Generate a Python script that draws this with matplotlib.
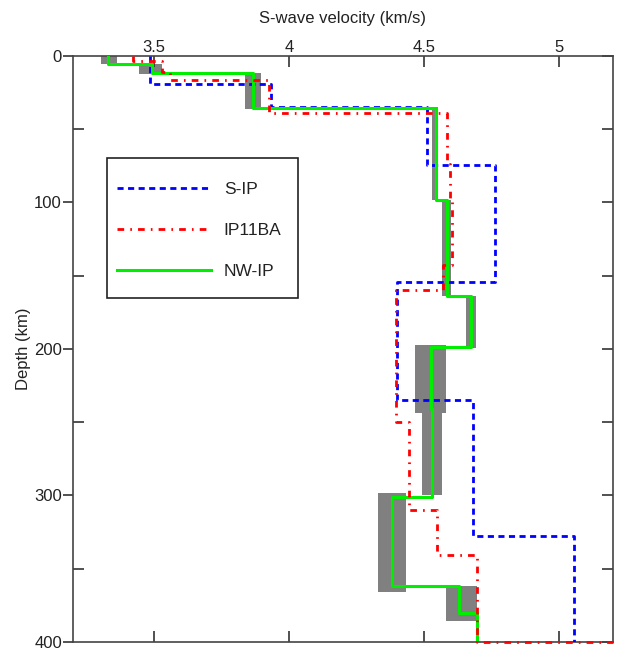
import numpy as np
import matplotlib
matplotlib.use("Agg")
from matplotlib import pyplot as plt
from matplotlib.patches import Rectangle
from matplotlib.ticker import MultipleLocator, FixedLocator

plt.rcParams['font.family'] = ['Liberation Sans', 'DejaVu Sans']

# layer boundaries (km) and S-wave velocities (km/s) of each model
sip_depth = [0, 19.1, 34.8, 74.4, 154.2, 234.7, 327.5, 400]
sip_vs = [3.487, 3.935, 4.513, 4.765, 4.402, 4.683, 5.057]

# IP11BA jumps beyond the plotted range right at 400 km
ip_depth = [0, 3.4, 11, 16.4, 38.9, 74, 98, 143, 160, 250, 310, 340.5, 400, 400]
ip_vs = [3.424, 3.53, 3.56, 3.925, 4.585, 4.595, 4.605, 4.57, 4.398, 4.446,
         4.55, 4.698, 5.2]

nw_depth = [0, 5.5, 11.6, 35.5, 98.3, 163.8, 198.6, 241, 301, 362, 380, 400]
nw_vs = [3.328, 3.491, 3.868, 4.546, 4.587, 4.676, 4.528, 4.531, 4.380,
         4.631, 4.698]

# uncertainty of NW-IP per layer
band_top = [0, 5.5, 11.6, 35, 98, 164, 197, 237, 298, 362]
band_bottom = [5.5, 12, 36, 98, 164, 199, 244, 300, 366, 386]
band_lo = [3.305, 3.446, 3.839, 4.531, 4.568, 4.657, 4.468, 4.494, 4.331, 4.583]
band_hi = [3.363, 3.531, 3.898, 4.553, 4.600, 4.694, 4.583, 4.568, 4.435, 4.698]


def steps(depth, vs):
    d = np.asarray(depth, dtype=float)
    v = np.repeat(vs, 2)
    z = np.column_stack((d[:-1], d[1:])).ravel()
    return v, z


fig = plt.figure(figsize=(6.19, 6.48), dpi=100)
ax = fig.add_axes([0.118, 0.0093, 0.872, 0.9043])

bt = np.array(band_top)
bb = np.array(band_bottom)
bl = np.array(band_lo)
bh = np.array(band_hi)
ax.barh((bt + bb) / 2, bh - bl, left=bl, height=bb - bt,
        color='#808080', edgecolor='none', zorder=1)

v, z = steps(sip_depth, sip_vs)
ax.plot(v, z, color='#0000ff', lw=2, dashes=(2.2, 1.6), label='S-IP', zorder=3)
v, z = steps(ip_depth, ip_vs)
ax.plot(v, z, color='#ff0000', lw=2, dashes=(2.4, 2.2, 0.6, 2.2),
        label='IP11BA', zorder=5, clip_on=False)
v, z = steps(nw_depth, nw_vs)
ax.plot(v, z, color='#00ee00', lw=2.2, label='NW-IP', zorder=4)

ax.set_xlim(3.2, 5.2)
ax.set_ylim(400, 0)

ax.xaxis.set_major_locator(FixedLocator([3.5, 4, 4.5, 5]))
ax.xaxis.set_major_formatter(plt.FuncFormatter(lambda x, p: f"{x:g}"))
ax.xaxis.tick_top()
ax.xaxis.set_label_position('top')
ax.tick_params(axis='x', which='both', direction='in', top=True, bottom=True,
               labeltop=True, labelbottom=False, length=8, width=1.2,
               labelsize=12, pad=1, colors='#333333', labelcolor='#222222')

ax.yaxis.set_major_locator(MultipleLocator(100))
ax.yaxis.set_minor_locator(FixedLocator([50, 150, 250, 350]))
ax.tick_params(axis='y', which='major', direction='out', left=True,
               right=False, length=7, width=1.2, labelsize=12, pad=1,
               colors='#333333', labelcolor='#222222')
ax.tick_params(axis='y', which='minor', direction='in', left=True,
               right=False, length=8, width=1.2, colors='#333333')

right = ax.secondary_yaxis('right')
right.yaxis.set_major_locator(MultipleLocator(50))
right.tick_params(direction='in', length=8, width=1.2, labelright=False,
                  colors='#333333')
right.spines['right'].set_visible(False)

for s in ax.spines.values():
    s.set_color('#444444')
    s.set_linewidth(1.2)

ax.set_xlabel('S-wave velocity (km/s)', fontsize=12, labelpad=12,
              color='#222222')
ax.set_ylabel('Depth (km)', fontsize=12, labelpad=2, color='#222222')

# legend box drawn separately so the padding can differ per side
ax.add_patch(Rectangle((0.063, 0.587), 0.354, 0.239, transform=ax.transAxes,
                       facecolor='white', edgecolor='#222222', lw=1.2,
                       zorder=6))
leg = ax.legend(loc='upper left', bbox_to_anchor=(0.063, 0.826),
                fontsize=12.5, frameon=False, borderaxespad=0,
                borderpad=0.0, labelspacing=1.5, handlelength=5.4,
                handletextpad=0.75)
leg.set_bbox_to_anchor((0.063 + 10 / 540, 0.826 - 24 / 586),
                       transform=ax.transAxes)
leg.set_zorder(7)
for t in leg.get_texts():
    t.set_color('#222222')

fig.savefig('out.png', dpi=100)
